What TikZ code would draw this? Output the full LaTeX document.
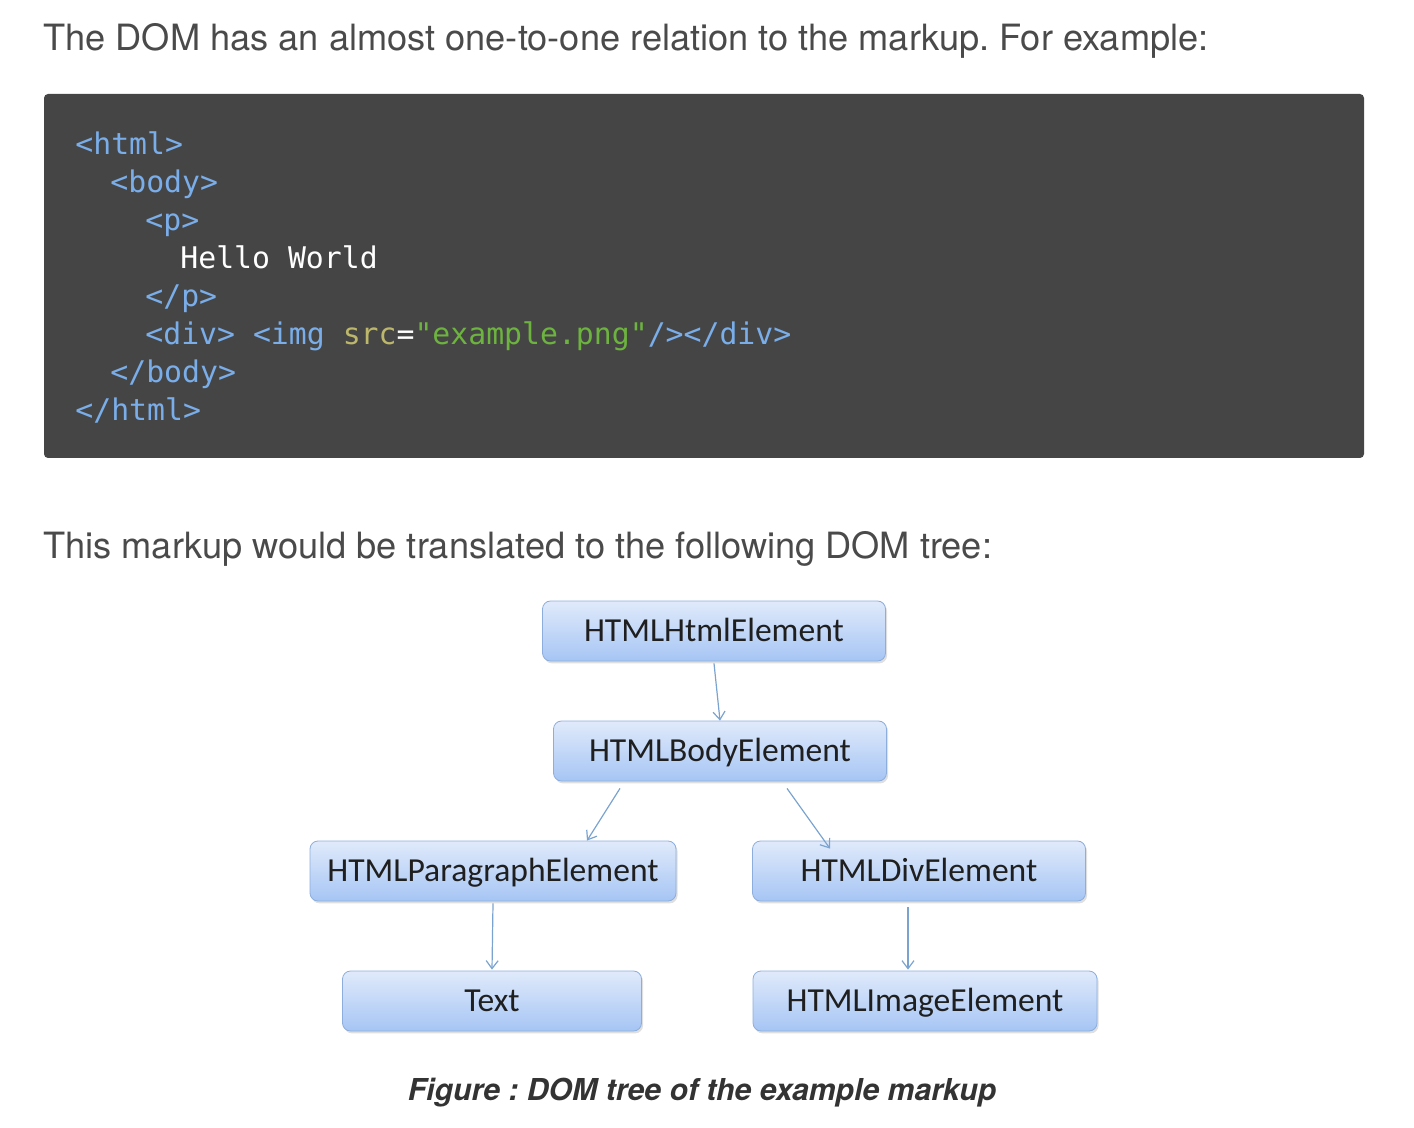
\documentclass[tikz,border=0pt]{standalone}
\usepackage{fontspec}
\setmainfont{TeX Gyre Heros}
\newfontfamily\codefont{DejaVu Sans Mono}
\newfontfamily\boxfont{Carlito}
\usetikzlibrary{arrows.meta,shadows}
\definecolor{bodytext}{HTML}{4A4A4A}
\definecolor{codebg}{HTML}{454545}
\definecolor{codetag}{HTML}{7AAEEA}
\definecolor{codeattr}{HTML}{BDB76B}
\definecolor{codestr}{HTML}{6DB33F}
\definecolor{boxtop}{HTML}{E0EAFB}
\definecolor{boxbottom}{HTML}{A6C5F4}
\definecolor{boxline}{HTML}{8DAEDC}
\definecolor{arrowline}{HTML}{7BA3D0}
\newcommand{\tg}[1]{\textcolor{codetag}{#1}}
\frenchspacing
\begin{document}
\begin{tikzpicture}[x=0.5pt,y=-0.5pt,
  para/.style={anchor=base west, inner sep=0pt, text=bodytext, font=\fontsize{18.1}{21}\selectfont},
  code/.style={anchor=base west, inner sep=0pt, font=\codefont\fontsize{14.9}{17}\selectfont},
  elem/.style={draw=boxline, rounded corners=4pt, top color=boxtop, bottom color=boxbottom,
    minimum height=30pt, inner sep=0pt, text height=10.8pt, text depth=0pt,
    font=\boxfont\fontsize{16.8}{19}\selectfont, text=black!88,
    drop shadow={shadow xshift=0.8pt, shadow yshift=-1.2pt, opacity=0.25}},
  arr/.style={draw=arrowline, line width=0.6pt, -{Straight Barb[length=4pt,width=6pt]}}]
\useasboundingbox (0,0) rectangle (1414,1128);
% intro text
\node[para] (intro) at (43,51) {The DOM has an almost one-to-one relation to the markup. For example:};
% code block
\fill[codebg, rounded corners=2pt] (44,94) rectangle (1364,458);
\node[code] (l1) at (75,155) {\tg{<html>}};
\node[code] (l2) at (110,193) {\tg{<body>}};
\node[code] (l3) at (145,231) {\tg{<p>}};
\node[code] (l4) at (180,269) {\textcolor{white}{Hello World}};
\node[code] (l5) at (145,307) {\tg{</p>}};
\node[code] (l6) at (145,345) {\tg{<div>} \tg{<img} \textcolor{codeattr}{src}\textcolor{white}{=}\textcolor{codestr}{"example.png"}\tg{/></div>}};
\node[code] (l7) at (110,383) {\tg{</body>}};
\node[code] (l8) at (75,421) {\tg{</html>}};
% second text
\node[para] (trans) at (43,559) {This markup would be translated to the following DOM tree:};
% tree
\node[elem, minimum width=171.5pt] (html) at (714,631) {HTMLHtmlElement};
\node[elem, minimum width=166.5pt] (body) at (720,751) {HTMLBodyElement};
\node[elem, minimum width=183pt] (par) at (493,871) {HTMLParagraphElement};
\node[elem, minimum width=166.5pt] (div) at (919,871) {HTMLDivElement};
\node[elem, minimum width=149.5pt] (txt) at (492,1001) {Text};
\node[elem, minimum width=172pt] (img) at (925,1001) {HTMLImageElement};
\draw[arr] ([yshift=-1pt]html.south) -- (body.north);
\draw[arr] ([xshift=-50pt,yshift=-3.5pt]body.south) -- ([xshift=47pt]par.north);
\draw[arr] ([xshift=33.5pt,yshift=-3.5pt]body.south) -- ([xshift=-44.5pt,yshift=-4pt]div.north);
\draw[arr] ([yshift=-1pt]par.south) -- ([yshift=0.5pt]txt.north);
\draw[arr] ([xshift=-5.5pt,yshift=-3pt]div.south) -- ([xshift=-8.5pt,yshift=0.5pt]img.north);
% caption
\node[inner sep=0pt, anchor=base, text=black!80, font=\bfseries\itshape\fontsize{15.1}{18}\selectfont] (cap) at (702,1100) {Figure : DOM tree of the example markup};
\end{tikzpicture}
\end{document}
